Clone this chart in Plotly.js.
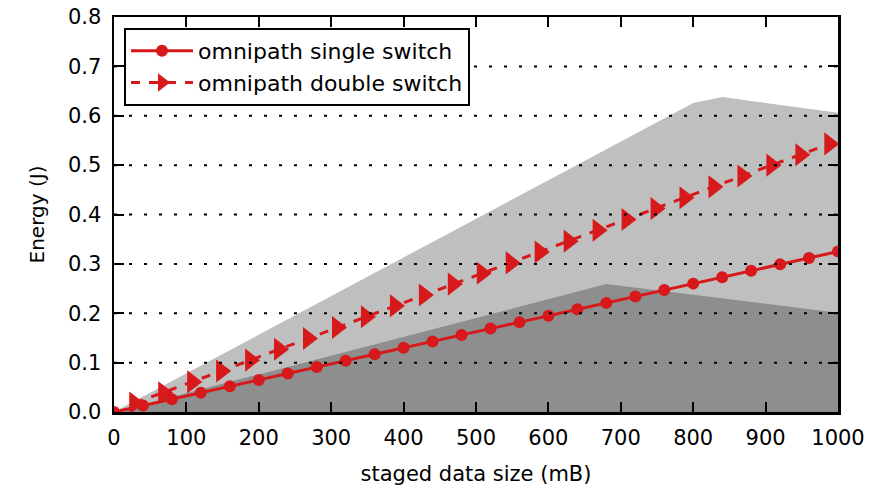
<!DOCTYPE html>
<html>
<head>
<meta charset="utf-8">
<script src="https://cdn.plot.ly/plotly-3.0.1.min.js"></script>
<style>html,body{margin:0;padding:0;background:#fff;}#chart{width:887px;height:490px;}</style>
</head>
<body>
<div id="chart"></div>
<script>
// Data
const singleX = [0,40,80,120,160,200,240,280,320,360,400,440,480,520,560,600,640,680,720,760,800,840,880,920,960,1000];
const singleY = [0.000,0.013,0.026,0.039,0.052,0.065,0.078,0.091,0.104,0.117,0.130,0.143,0.156,0.169,0.182,0.195,0.208,0.221,0.234,0.247,0.260,0.273,0.286,0.299,0.312,0.325];
const doubleX = [28,68,108,148,188,228,268,308,348,388,428,468,508,548,588,628,668,708,748,788,828,868,908,948,988];
const doubleY = [0.018,0.039,0.061,0.083,0.105,0.127,0.149,0.171,0.193,0.215,0.237,0.259,0.281,0.302,0.324,0.346,0.368,0.390,0.412,0.434,0.456,0.478,0.500,0.521,0.543];
const upperBandX = [0,800,840,1000];
const upperBandY = [0,0.626,0.638,0.606];
const lowerBandX = [0,680,1000];
const lowerBandY = [0,0.259,0.201];
const yTicks = [0,0.1,0.2,0.3,0.4,0.5,0.6,0.7,0.8];
const xTicks = [0,100,200,300,400,500,600,700,800,900,1000];
const seriesNames = ['omnipath single switch','omnipath double switch'];

const RED = '#d7191c';
const FONT = 'DejaVu Sans, sans-serif';

const traces = [
  {x: upperBandX, y: upperBandY, type:'scatter', mode:'lines', fill:'tozeroy',
   fillcolor:'#bfbfbf', line:{width:0, color:'#bfbfbf'}, showlegend:false, hoverinfo:'skip'},
  {x: lowerBandX, y: lowerBandY, type:'scatter', mode:'lines', fill:'tozeroy',
   fillcolor:'#8e8e8e', line:{width:0, color:'#8e8e8e'}, showlegend:false, hoverinfo:'skip'},
  {x: singleX, y: singleY, type:'scatter', mode:'lines+markers', name: seriesNames[0],
   line:{color:RED, width:3}, marker:{symbol:'circle', size:12, color:RED}, cliponaxis:true},
  {x: doubleX, y: doubleY, type:'scatter', mode:'lines+markers', name: seriesNames[1],
   line:{color:RED, width:3, dash:'dash'}, marker:{symbol:'triangle-right', size:20, color:RED}, cliponaxis:true}
];

const gridShapes = yTicks.filter(v => v > 0 && v < 0.8).map(v => ({
  type:'line', xref:'paper', x0:0, x1:1, yref:'y', y0:v, y1:v, layer:'above',
  line:{color:'#000', width:2, dash:'3px,12px'}
}));

const layout = {
  width: 887, height: 490,
  margin: {l:114, r:49, t:17, b:78},
  paper_bgcolor:'#fff', plot_bgcolor:'#fff',
  font: {family: FONT, size: 21, color:'#000'},
  xaxis: {
    range:[0,1000], tickvals: xTicks, ticktext: xTicks.map(String),
    showgrid:false, zeroline:false,
    showline:true, linecolor:'#000', linewidth:2.5, mirror:'ticks',
    ticks:'inside', ticklen:10, tickwidth:2, tickcolor:'#000',
    tickfont:{family:FONT, size:21}, ticklabelstandoff:5,
    title:{text:'staged data size (mB)', font:{family:FONT, size:21}, standoff:18},
    layer:'above traces'
  },
  yaxis: {
    range:[0,0.8], tickvals: yTicks, ticktext: yTicks.map(v => v.toFixed(1)),
    showgrid:false, zeroline:false,
    showline:true, linecolor:'#000', linewidth:2.5, mirror:'ticks',
    ticks:'inside', ticklen:10, tickwidth:2, tickcolor:'#000',
    tickfont:{family:FONT, size:21}, ticklabelstandoff:6,
    title:{text:'Energy (J)', font:{family:FONT, size:20}, standoff:18},
    layer:'above traces'
  },
  shapes: gridShapes,
  legend: {
    x:0.0138, y:0.972, xanchor:'left', yanchor:'top',
    bgcolor:'#fff', bordercolor:'#000', borderwidth:2,
    font:{family:FONT, size:22, color:'#000'},
    itemwidth:62, tracegroupgap:0
  },
  showlegend:true
};

Plotly.newPlot('chart', traces, layout, {displayModeBar:false, staticPlot:true});
</script>
</body>
</html>
